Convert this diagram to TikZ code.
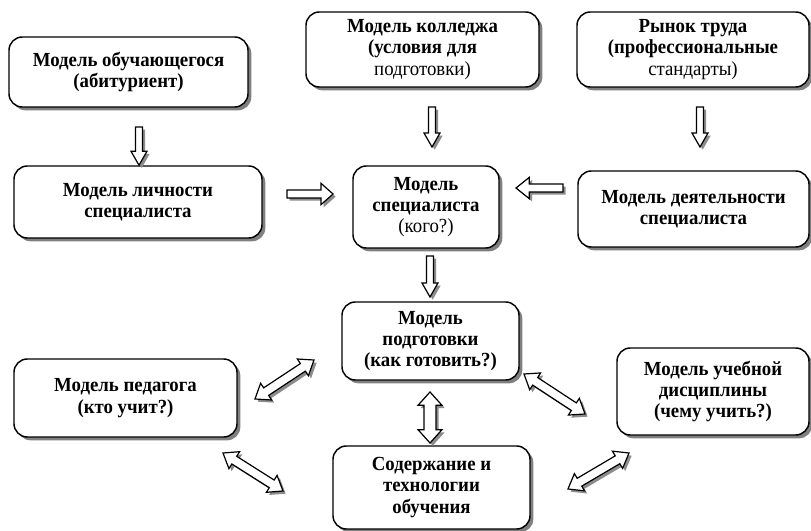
\documentclass[tikz,border=0pt]{standalone}
\usepackage{fontspec}
\setmainfont[FakeStretch=0.94]{Liberation Serif}
\usetikzlibrary{calc,shadows}
% single block arrow: #1 tail, #2 tip, #3 half shaft, #4 half head, #5 head length
\newcommand\sblockarrow[5]{%
  \draw[blockarr] ($(#1)!#3!90:(#2)$) -- ($(#2)!#5!(#1)!#3!-90:(#1)$) -- ($(#2)!#5!(#1)!#4!-90:(#1)$) -- (#2)
    -- ($(#2)!#5!(#1)!#4!90:(#1)$) -- ($(#2)!#5!(#1)!#3!90:(#1)$) -- ($(#1)!#3!-90:(#2)$) -- cycle;}
% double block arrow
\newcommand\dblockarrow[5]{%
  \draw[blockarr] (#1) -- ($(#1)!#5!(#2)!#4!90:(#2)$) -- ($(#1)!#5!(#2)!#3!90:(#2)$)
    -- ($(#2)!#5!(#1)!#3!-90:(#1)$) -- ($(#2)!#5!(#1)!#4!-90:(#1)$) -- (#2)
    -- ($(#2)!#5!(#1)!#4!90:(#1)$) -- ($(#2)!#5!(#1)!#3!90:(#1)$)
    -- ($(#1)!#5!(#2)!#3!-90:(#2)$) -- ($(#1)!#5!(#2)!#4!-90:(#2)$) -- cycle;}
\begin{document}
\begin{tikzpicture}[x=0.75pt,y=-0.75pt,
  box/.style={draw=black, line width=1.1pt, rounded corners=10pt, fill=white, align=center,
    inner sep=2pt, font=\bfseries\fontsize{15}{16}\selectfont,
    drop shadow={shadow xshift=2.5pt, shadow yshift=-2.5pt, fill=black!50, opacity=1}},
  blockarr/.style={draw=black, line width=0.9pt, fill=white, line join=miter,
    drop shadow={shadow xshift=2pt, shadow yshift=-2pt, fill=black!45, opacity=1}}]
\useasboundingbox[fill=white] (0,0) rectangle (811,531);

\node[box, minimum width=179.25pt, minimum height=52.5pt] (A) at (128.5,72) {Модель обучающегося\\(абитуриент)};
\node[box, minimum width=174.75pt, minimum height=56.25pt] (B) at (422.5,49.5) {Модель колледжа\\(условия для\\{\mdseries подготовки)}};
\node[box, minimum width=174pt, minimum height=56.25pt] (C) at (693,49.5) {Рынок труда\\(профессиональные\\{\mdseries стандарты)}};
\node[box, minimum width=186pt, minimum height=54pt] (D) at (138,202) {Модель личности\\специалиста};
\node[box, minimum width=109.5pt, minimum height=61.5pt] (E) at (426,207) {Модель\\специалиста\\{\mdseries (кого?)}};
\node[box, minimum width=173.25pt, minimum height=57pt] (F) at (693.5,209) {Модель деятельности\\специалиста};
\node[box, minimum width=132.75pt, minimum height=58.5pt] (G) at (430.5,341) {Модель\\подготовки\\(как готовить?)};
\node[box, minimum width=167.25pt, minimum height=58.5pt] (H) at (125.5,398) {Модель педагога\\(кто учит?)};
\node[box, minimum width=144pt, minimum height=65.25pt] (I) at (713,391.5) {Модель учебной\\дисциплины\\(чему учить?)};
\node[box, minimum width=147.75pt, minimum height=62.25pt] (J) at (431.5,487.5) {Содержание и\\технологии\\обучения};

% arrow end points
\coordinate (ad1) at (139,127);  \coordinate (ad2) at (ad1 |- D.north);
\coordinate (be1) at (432,107);  \coordinate (be2) at (432,147);
\coordinate (cf1) at (700,107);  \coordinate (cf2) at (700,147);
\coordinate (de1) at (287,194);  \coordinate (de2) at (333,194);
\coordinate (fe1) at (563,188);  \coordinate (fe2) at (516,188);
\coordinate (eg1) at (430,256);  \coordinate (eg2) at (430,297);
\coordinate (gj1) at (430,392);  \coordinate (gj2) at (430,443);
\coordinate (hg1) at (255,399);  \coordinate (hg2) at (314,360);
\coordinate (gi1) at (524,374);  \coordinate (gi2) at (585,414);
\coordinate (hj1) at (223,453);  \coordinate (hj2) at (283,491);
\coordinate (ji1) at (568,489);  \coordinate (ji2) at (629,453);

\sblockarrow{ad1}{ad2}{2.6pt}{6pt}{10.5pt}
\sblockarrow{be1}{be2}{2.6pt}{6pt}{10.5pt}
\sblockarrow{cf1}{cf2}{2.6pt}{6pt}{10.5pt}
\sblockarrow{eg1}{eg2}{2.6pt}{6pt}{10.5pt}
\sblockarrow{de1}{de2}{3pt}{8pt}{9pt}
\sblockarrow{fe1}{fe2}{3pt}{8pt}{10pt}
\dblockarrow{gj1}{gj2}{4.5pt}{9pt}{10pt}
\dblockarrow{hg1}{hg2}{3.4pt}{7.5pt}{10pt}
\dblockarrow{gi1}{gi2}{3.4pt}{7.5pt}{10pt}
\dblockarrow{hj1}{hj2}{3.4pt}{7.5pt}{10pt}
\dblockarrow{ji1}{ji2}{3.4pt}{7.5pt}{10pt}
\end{tikzpicture}
\end{document}
